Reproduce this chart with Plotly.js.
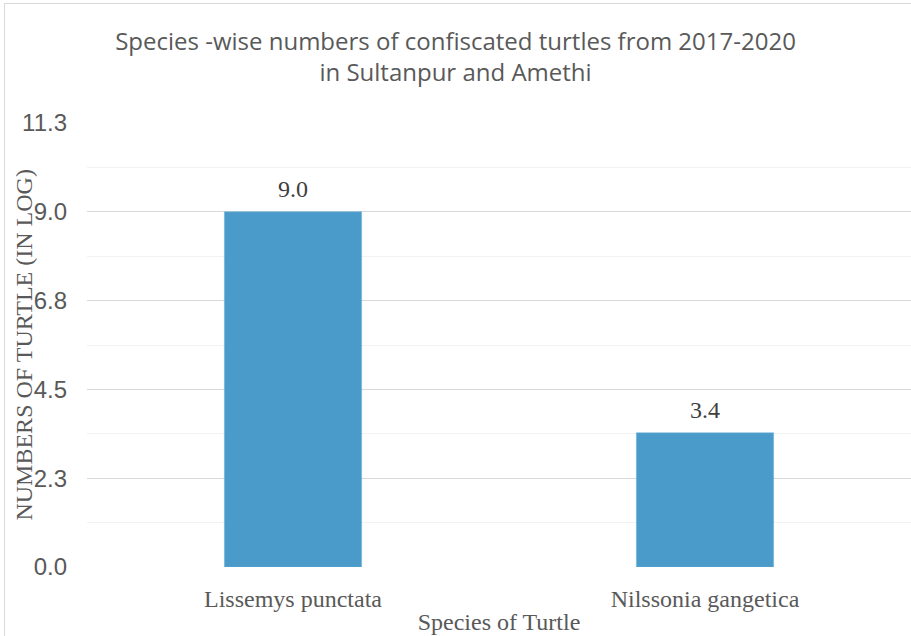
<!DOCTYPE html>
<html>
<head>
<meta charset="utf-8">
<script src="https://cdn.plot.ly/plotly-3.0.1.min.js"></script>
<style>
html,body{margin:0;padding:0;background:#fff;}
#chart{position:absolute;left:0;top:0;width:911px;height:636px;}
#frame{position:absolute;left:4px;top:3px;width:1000px;height:1000px;border:1px solid #d9d9d9;pointer-events:none;}
</style>
</head>
<body>
<div id="chart"></div>
<div id="frame"></div>
<script>
const categories = ["Lissemys punctata", "Nilssonia gangetica"];
const values = [9.0, 3.4];
const tickValues = [0, 2.25, 4.5, 6.75, 9, 11.25];
const tickLabels = ["0.0", "2.3", "4.5", "6.8", "9.0", "11.3"];
const valueLabels = ["9.0", "3.4"];
const yAxisTitle = 'NUMBERS OF TURTLE (IN LOG)';

const serif = '"Liberation Serif", "Times New Roman", serif';
const sans = '"Liberation Sans", Arial, sans-serif';

const trace = {
  type: 'bar',
  x: categories,
  y: values,
  marker: {color: '#4A9BCA', line: {color: '#6aaed6', width: 0.5}},
  hoverinfo: 'x+y'
};

const annotations = categories.map((c, i) => ({
  x: c, y: values[i], xref: 'x', yref: 'y',
  text: valueLabels[i], showarrow: false,
  yanchor: 'bottom', yshift: 8,
  font: {family: serif, size: 24, color: '#404040'}
}));
annotations.push({
  text: yAxisTitle, showarrow: false, textangle: -90,
  xref: 'paper', yref: 'paper', x: -0.077, y: 0.5,
  xanchor: 'center', yanchor: 'middle',
  font: {family: serif, size: 24, color: '#595959'}
});

const layout = {
  width: 911, height: 636,
  margin: {l: 87, r: 0, t: 123, b: 69},
  paper_bgcolor: '#ffffff', plot_bgcolor: '#ffffff',
  showlegend: false,
  bargap: 0.667,
  title: {
    text: 'Species -wise numbers of confiscated turtles from 2017-2020<br>in Sultanpur and Amethi',
    font: {family: '"Open Sans", sans-serif', size: 24, color: '#595959'},
    x: 0.5, xref: 'container', xanchor: 'center',
    y: 0.922, yref: 'container', yanchor: 'top'
  },
  xaxis: {
    type: 'category',
    showgrid: false, zeroline: false, showline: false,
    ticks: '', ticklabelstandoff: 15,
    tickfont: {family: serif, size: 24, color: '#595959'},
    title: {text: 'Species of Turtle', standoff: 2, font: {family: serif, size: 24, color: '#595959'}}
  },
  yaxis: {
    range: [0, 11.25], fixedrange: true,
    tickmode: 'array', tickvals: tickValues, ticktext: tickLabels,
    showgrid: true, gridcolor: '#d9d9d9', gridwidth: 1,
    zeroline: false, showline: false, ticks: '',
    ticklabelstandoff: 19,
    tickfont: {family: sans, size: 24, color: '#595959'},
    minor: {dtick: 1.125, showgrid: true, gridcolor: '#f2f2f2', gridwidth: 1, ticks: ''}
  },
  annotations: annotations
};

Plotly.newPlot('chart', [trace], layout, {displayModeBar: false, responsive: false});
</script>
</body>
</html>
